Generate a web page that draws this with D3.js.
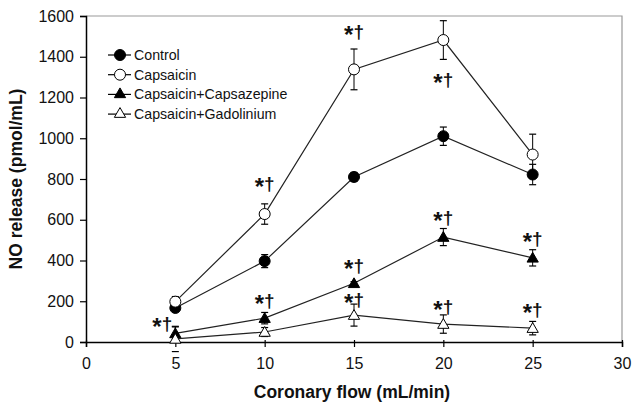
<!DOCTYPE html>
<html><head><meta charset="utf-8">
<script src="https://cdn.jsdelivr.net/npm/d3@7"></script>
<style>body{margin:0;background:#fff}svg{display:block}text{font-family:"Liberation Sans",Arial,sans-serif}</style>
</head><body><svg id="c" width="640" height="414"></svg>
<script>
const flows = [5, 10, 15, 20, 25];
const seriesNames = ["Control", "Capsaicin", "Capsaicin+Capsazepine", "Capsaicin+Gadolinium"];
const controlVals = [167, 397, 810, 1010, 822];
const controlErr = [15, 32, 22, 45, 50];
const capsaicinVals = [198, 628, 1338, 1482, 920];
const capsaicinErr = [25, 50, 100, 95, 100];
const capsazepineVals = [42, 117, 288, 515, 413];
const capsazepineErr = [32, 28, 8, 42, 40];
const gadoliniumVals = [15, 49, 132, 88, 68];
const gadoliniumErr = [62, 22, 54, 45, 33];
const xTicks = [0, 5, 10, 15, 20, 25, 30];
const yTicks = [0, 200, 400, 600, 800, 1000, 1200, 1400, 1600];
// significance marks "*†": flow and value position of their baseline
const sigFlows = [5, 10, 10, 15, 15, 15, 20, 20, 20, 25, 25];
const sigVals = [60, 172, 745, 1492, 343, 177, 1256, 579, 142, 476, 128];
const sigDx = [-13, 0, 0, 0, 0, 0, 0, 0, 0, 0, 0];

const svg = d3.select("#c");
const L = 86, R = 622, T = 16, B = 342;
const x = d3.scaleLinear().domain([0, 30]).range([L, R]);
const y = d3.scaleLinear().domain([0, 1600]).range([B, T]);

// frame (grey top/right)
svg.append("path").attr("d", `M${L},${T}H${R}V${B}`).attr("fill", "none").attr("stroke", "#999").attr("stroke-width", 1.2);

const xAx = svg.append("g").attr("transform", `translate(0,${B})`)
  .call(d3.axisBottom(x).tickValues(xTicks).tickSize(5).tickPadding(11).tickFormat(d3.format("d")));
const yAx = svg.append("g").attr("transform", `translate(${L},0)`)
  .call(d3.axisLeft(y).tickValues(yTicks).tickSize(6).tickPadding(6).tickFormat(d3.format("d")));
[xAx, yAx].forEach(g => {
  g.select(".domain").attr("stroke", "#000").attr("stroke-width", 1.5);
  g.selectAll(".tick line").attr("stroke", "#000").attr("stroke-width", 1.2);
  g.selectAll("text").attr("font-size", 16).attr("fill", "#111").attr("font-family", "Liberation Sans, Arial, sans-serif");
});
xAx.selectAll(".tick line").attr("y1", -2);

svg.append("text").attr("x", 352).attr("y", 398).attr("text-anchor", "middle")
  .attr("font-size", 17.5).attr("font-weight", "bold").attr("fill", "#111").text("Coronary flow (mL/min)");
svg.append("text").attr("transform", "translate(22,179) rotate(-90)").attr("text-anchor", "middle")
  .attr("font-size", 17.5).attr("font-weight", "bold").attr("fill", "#111").text("NO release (pmol/mL)");

const series = [
  {vals: controlVals, err: controlErr, shape: "circle", fill: "#000"},
  {vals: capsaicinVals, err: capsaicinErr, shape: "circle", fill: "#fff"},
  {vals: capsazepineVals, err: capsazepineErr, shape: "tri", fill: "#000"},
  {vals: gadoliniumVals, err: gadoliniumErr, shape: "tri", fill: "#fff"}
];
const line = d3.line().x((d, i) => x(flows[i])).y(d => y(d));
function marker(g, shape, fill, cx, cy) {
  if (shape === "circle") {
    g.append("circle").attr("cx", cx).attr("cy", cy).attr("r", 5.5)
      .attr("fill", fill).attr("stroke", "#000").attr("stroke-width", 1);
  } else {
    g.append("path").attr("d", d3.symbol(d3.symbolTriangle, 55)()).attr("transform", `translate(${cx},${cy + 1})`)
      .attr("fill", fill).attr("stroke", "#000").attr("stroke-width", 1);
  }
}
series.forEach(s => {
  svg.append("path").attr("d", line(s.vals)).attr("fill", "none").attr("stroke", "#222").attr("stroke-width", 1.2);
});
series.forEach(s => {
  const g = svg.append("g");
  s.vals.forEach((v, i) => {
    const cx = x(flows[i]);
    const hi = y(v + s.err[i]), lo = y(v - s.err[i]);
    g.append("line").attr("x1", cx).attr("x2", cx).attr("y1", hi).attr("y2", Math.min(lo, y(0)))
      .attr("stroke", "#000").attr("stroke-width", 1);
    [hi, lo].forEach(yy => g.append("line").attr("x1", cx - 3.5).attr("x2", cx + 3.5).attr("y1", yy).attr("y2", yy)
      .attr("stroke", "#000").attr("stroke-width", 1.2));
    marker(g, s.shape, s.fill, cx, y(v));
  });
});

// significance marks
sigFlows.forEach((f, i) => {
  const t = svg.append("text").attr("x", x(f) + sigDx[i]).attr("y", y(sigVals[i])).attr("text-anchor", "middle")
    .attr("font-weight", "bold").attr("fill", "#111");
  t.append("tspan").attr("font-size", 24).attr("dy", 5).text("*");
  t.append("tspan").attr("font-size", 19).attr("dy", -5).text("†");
});

// legend
seriesNames.forEach((n, i) => {
  const ly = 55 + i * 19.7;
  const g = svg.append("g");
  g.append("line").attr("x1", 108).attr("x2", 131).attr("y1", ly).attr("y2", ly).attr("stroke", "#000").attr("stroke-width", 1.2);
  marker(g, series[i].shape, series[i].fill, 120, ly - (series[i].shape === "tri" ? 1 : 0));
  g.append("text").attr("x", 134).attr("y", ly + 5).attr("font-size", 14.2).attr("fill", "#111").text(n);
});
</script></body></html>
